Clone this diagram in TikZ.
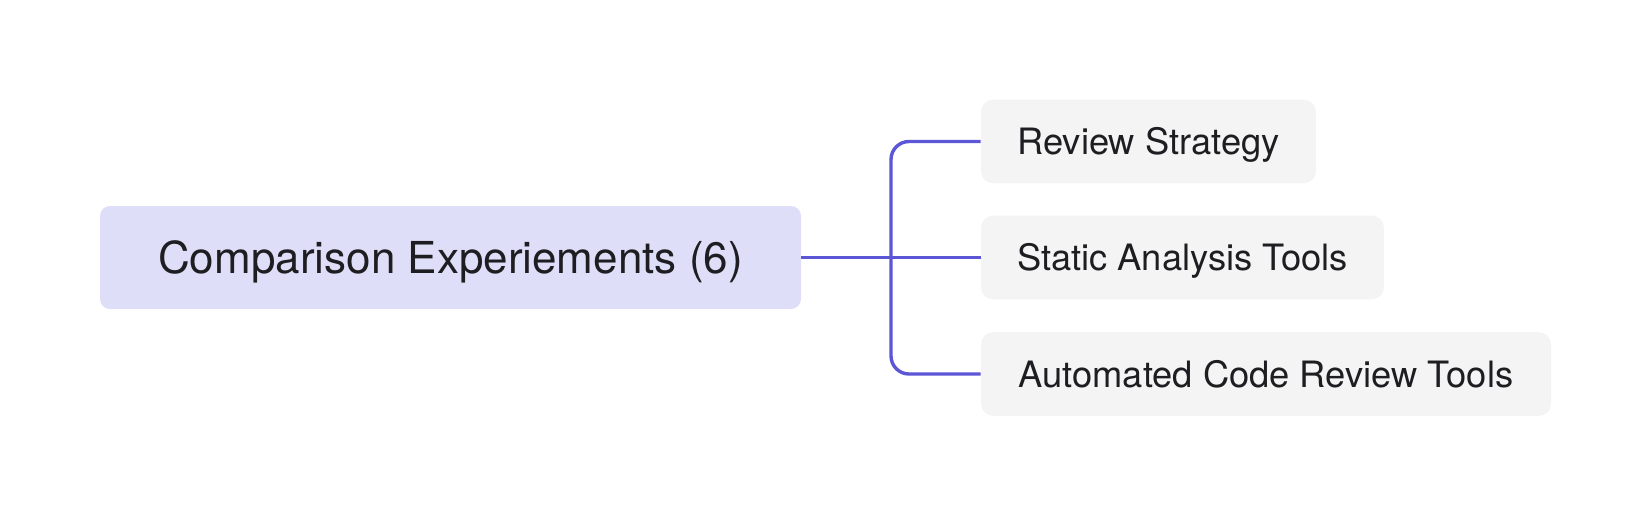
\documentclass[tikz,border=0pt]{standalone}
\usepackage{fontspec}
\setmainfont{TeX Gyre Heros}
\definecolor{lavande}{HTML}{DEDEF8}
\definecolor{grisclair}{HTML}{F4F4F4}
\definecolor{indigo}{HTML}{5A56D6}
\definecolor{encre}{HTML}{1E1E22}

\begin{document}
\begin{tikzpicture}[x=0.5pt, y=-0.5pt]
\tikzset{grosnoeud/.style={fill=lavande, rounded corners=5pt, inner sep=0pt, text=encre, font=\fontsize{22pt}{26pt}\selectfont, text height=15.8pt, text depth=0pt, minimum height=51.5pt}}
\tikzset{feuille/.style={fill=grisclair, rounded corners=6pt, inner sep=0pt, text=encre, font=\fontsize{18.15pt}{21pt}\selectfont, text height=13pt, text depth=0pt, minimum height=41.8pt}}
\tikzset{lien/.style={draw=indigo, line width=1.7pt, rounded corners=9pt}}
\useasboundingbox (0, 0) rectangle (1648, 516);
\node[grosnoeud, minimum width=350.5pt] (R) at (450.5, 257.5) {Comparison Experiements (6)};
\node[feuille, minimum width=167.5pt] (F1) at (1148.5, 141.5) {Review Strategy};
\node[feuille, minimum width=201.5pt] (F2) at (1182.5, 257.5) {Static Analysis Tools};
\node[feuille, minimum width=285pt] (F3) at (1266, 374) {Automated Code Review Tools};
\coordinate (J) at (891, 257.5);
\draw[lien] (R.east) -- (F2.west);
\draw[lien] (F1.west) -| (J) |- (F3.west);
\end{tikzpicture}
\end{document}
